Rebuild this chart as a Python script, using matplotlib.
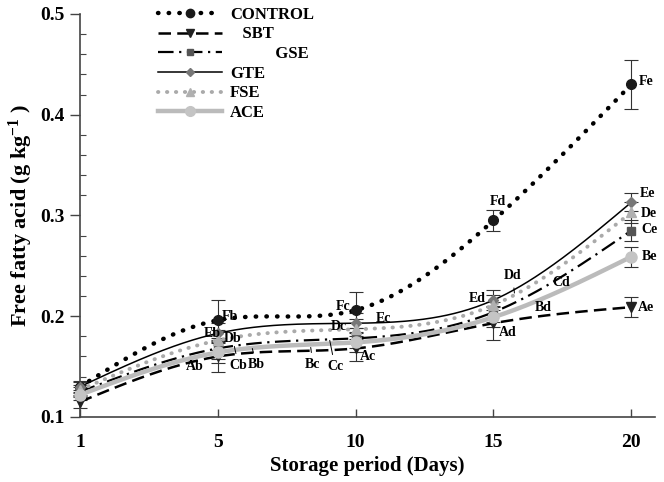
import matplotlib
matplotlib.use("Agg")
import matplotlib.pyplot as plt
import numpy as np

plt.rcParams['font.family'] = 'serif'
plt.rcParams['font.serif'] = ['Liberation Serif', 'DejaVu Serif']
plt.rcParams['font.weight'] = 'bold'
plt.rcParams['mathtext.fontset'] = 'custom'
plt.rcParams['mathtext.rm'] = 'Liberation Serif:bold'
plt.rcParams['mathtext.bf'] = 'Liberation Serif:bold'
plt.rcParams['mathtext.default'] = 'bf'

# storage days (shown as equally spaced categories)
days = ["1", "5", "10", "15", "20"]

control = [0.130, 0.196, 0.206, 0.295, 0.430]
sbt = [0.115, 0.160, 0.168, 0.193, 0.209]
gse = [0.125, 0.168, 0.178, 0.204, 0.285]
gte = [0.130, 0.183, 0.193, 0.216, 0.313]
fse = [0.127, 0.176, 0.187, 0.211, 0.303]
ace = [0.122, 0.164, 0.174, 0.199, 0.259]

control_err = [0.006, 0.020, 0.018, 0.010, 0.024]
sbt_err = [0.006, 0.015, 0.012, 0.017, 0.010]
gse_err = [0.005, 0.010, 0.010, 0.010, 0.010]
gte_err = [0.005, 0.010, 0.010, 0.010, 0.009]
fse_err = [0.005, 0.010, 0.010, 0.010, 0.010]
ace_err = [0.005, 0.010, 0.010, 0.010, 0.010]

# significance letters: (text, x index, value)
letters = [
    ("Fb", 1.09, 0.200), ("Eb", 0.96, 0.183), ("Db", 1.11, 0.178),
    ("Ab", 0.83, 0.150),
    ("Fc", 1.91, 0.210), ("Ec", 2.20, 0.198), ("Dc", 1.88, 0.190),
    ("Ac", 2.09, 0.160),
    ("Fd", 3.03, 0.314), ("Ed", 2.88, 0.218), ("Cd", 3.49, 0.233),
    ("Bd", 3.36, 0.209), ("Ad", 3.10, 0.184),
    ("Fe", 4.11, 0.433), ("Ee", 4.12, 0.322), ("De", 4.13, 0.302),
    ("Ce", 4.13, 0.286), ("Be", 4.13, 0.259), ("Ae", 4.11, 0.209),
]
# letters with a leader line: (text, text pos, line end)
leaders = [
    ("Cb", (1.15, 0.151), (1.12, 0.170)),
    ("Bb", (1.28, 0.152), (1.25, 0.168)),
    ("Bc", (1.69, 0.152), (1.674, 0.169)),
    ("Cc", (1.85, 0.150), (1.812, 0.176)),
    ("Dd", (3.14, 0.240), (3.152, 0.223)),
]

series = [
    ("CONTROL", control, control_err, dict(color='black', lw=3.2, ls=(0, (0.1, 2.3)), dash_capstyle='round'),
     dict(marker='o', color='#1a1a1a', ms=7)),
    ("   SBT", sbt, sbt_err, dict(color='black', lw=1.8, ls=(0, (5, 2.5))),
     dict(marker='v', color='#222222', ms=7)),
    ("           GSE", gse, gse_err, dict(color='black', lw=1.6, ls=(0, (7, 2.5, 1, 2.5))),
     dict(marker='s', color='#555555', ms=6)),
    ("GTE", gte, gte_err, dict(color='black', lw=1.1, ls='-'),
     dict(marker='D', color='#777777', ms=5.5)),
    ("FSE", fse, fse_err, dict(color='#aaaaaa', lw=2.8, ls=(0, (0.1, 2.2)), dash_capstyle='round'),
     dict(marker='^', color='#b0b0b0', ms=7)),
    ("ACE", ace, ace_err, dict(color='#bbbbbb', lw=3.2, ls='-'),
     dict(marker='o', color='#c4c4c4', ms=8)),
]


def natural_spline(xk, yk, xs):
    xk = np.asarray(xk, float)
    yk = np.asarray(yk, float)
    n = len(xk)
    h = np.diff(xk)
    A = np.zeros((n, n))
    b = np.zeros(n)
    A[0, 0] = 1
    A[-1, -1] = 1
    for i in range(1, n - 1):
        A[i, i - 1] = h[i - 1]
        A[i, i] = 2 * (h[i - 1] + h[i])
        A[i, i + 1] = h[i]
        b[i] = 3 * ((yk[i + 1] - yk[i]) / h[i] - (yk[i] - yk[i - 1]) / h[i - 1])
    c = np.linalg.solve(A, b)
    bb = (yk[1:] - yk[:-1]) / h - h * (2 * c[:-1] + c[1:]) / 3
    d = (c[1:] - c[:-1]) / (3 * h)
    idx = np.clip(np.searchsorted(xk, xs) - 1, 0, n - 2)
    t = xs - xk[idx]
    return yk[idx] + bb[idx] * t + c[idx] * t ** 2 + d[idx] * t ** 3


fig = plt.figure(figsize=(6.64, 4.82), dpi=100)
ax = fig.add_axes([0.1205, 0.135, 0.8655, 0.836])

x = np.arange(len(days))
xs = np.linspace(0, len(days) - 1, 300)

handles = []
for label, vals, err, lstyle, mstyle in series:
    ax.plot(xs, natural_spline(x, vals, xs), zorder=3, clip_on=False, **lstyle)
    ax.errorbar(x, vals, yerr=err, fmt='none', ecolor='#333333', elinewidth=0.8,
                capsize=5, capthick=0.8, zorder=2, clip_on=False)
    ax.plot(x, vals, ls='none', marker=mstyle['marker'], ms=mstyle['ms'],
            color=mstyle['color'], zorder=4, clip_on=False)
    h, = ax.plot([], [], marker=mstyle['marker'], ms=mstyle['ms'] - 1,
                 markerfacecolor=mstyle['color'], markeredgecolor=mstyle['color'], **lstyle)
    handles.append((h, label))

for txt, lx, ly in letters:
    ax.text(lx, ly, txt, fontsize=10, ha='center', va='center', zorder=5)
for txt, tpos, lend in leaders:
    ax.annotate(txt, xy=lend, xytext=tpos, fontsize=10, ha='center', va='center',
                arrowprops=dict(arrowstyle='-', color='black', lw=0.7, shrinkA=2, shrinkB=0))

leg = ax.legend([h for h, _ in handles], [l for _, l in handles], loc='upper left',
                bbox_to_anchor=(0.11, 1.055), frameon=False, fontsize=12,
                handlelength=3.8, labelspacing=0.22, handletextpad=0.5)

ax.set_xlim(0, 4.17)
ax.set_ylim(0.1, 0.5)
ax.set_xticks(x)
ax.set_xticklabels(days)
ax.set_yticks([0.1, 0.2, 0.3, 0.4, 0.5])
ax.set_yticklabels(["0.1", "0.2", "0.3", "0.4", "0.5"])
ax.set_yticks(np.arange(0.1, 0.5, 0.02), minor=True)

ax.tick_params(axis='x', direction='in', length=6, width=1, pad=12, labelsize=14, color='#444444')
ax.tick_params(axis='y', which='major', direction='out', length=7, width=1, pad=4, labelsize=14, color='#444444')
ax.tick_params(axis='y', which='minor', direction='in', length=4, width=0.8, color='#444444')

ax.spines['top'].set_visible(False)
ax.spines['right'].set_visible(False)
for s in ('left', 'bottom'):
    ax.spines[s].set_color('#444444')
    ax.spines[s].set_linewidth(1.2)

ax.set_xlabel("Storage period (Days)", fontsize=15, fontweight='bold', labelpad=4)
ax.set_ylabel("Free fatty acid (g kg$^{-1}$ )", fontsize=16, fontweight='bold', labelpad=4)

fig.savefig("out.png", dpi=100)
plt.close(fig)
